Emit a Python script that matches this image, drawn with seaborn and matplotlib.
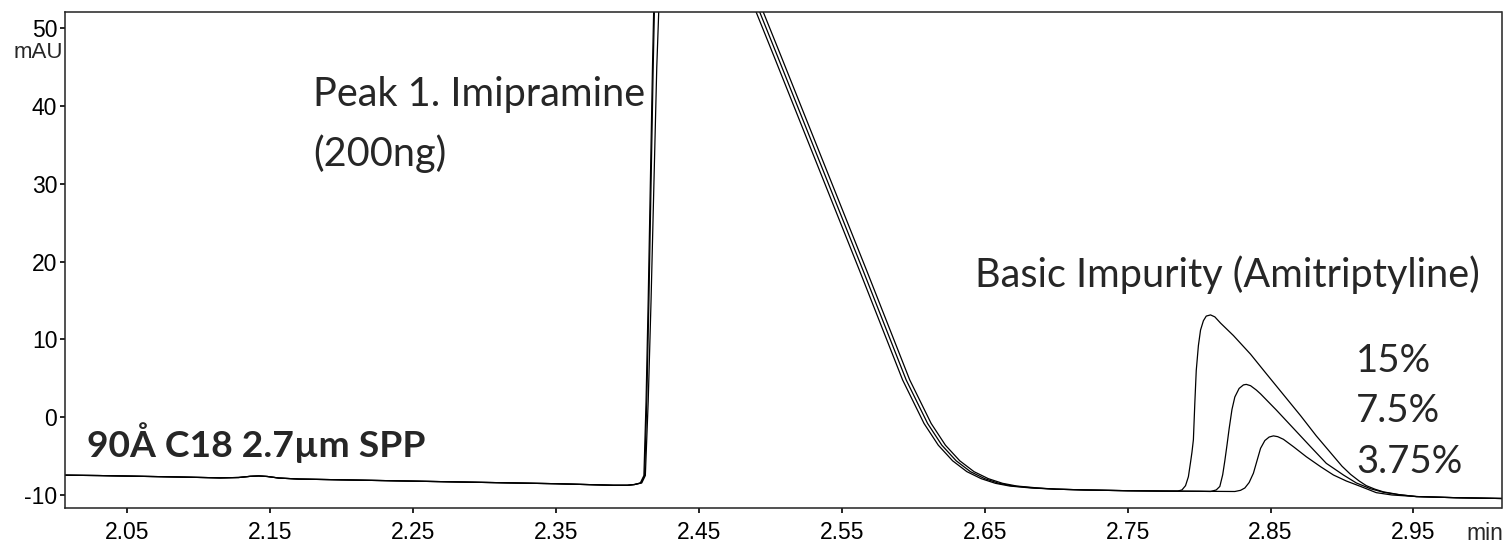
import numpy as np
import pandas as pd
import matplotlib
matplotlib.use("Agg")
import matplotlib.pyplot as plt
import matplotlib.transforms as mtransforms
import seaborn as sns

# ---------------- data ----------------
# shared baseline before the main peak (min, mAU)
base_t = [2.006, 2.03, 2.06, 2.09, 2.115, 2.128, 2.136, 2.142, 2.148, 2.156, 2.17,
          2.20, 2.23, 2.26, 2.29, 2.32, 2.35, 2.37, 2.39, 2.400, 2.405]
base_y = [-7.45, -7.5, -7.6, -7.7, -7.8, -7.75, -7.6, -7.55, -7.62, -7.82, -7.95,
          -8.05, -8.15, -8.25, -8.35, -8.45, -8.55, -8.65, -8.75, -8.75, -8.65]

# trace: 15 % impurity
t_15 = [2.409, 2.4115, 2.413, 2.4145, 2.416, 2.4175, 2.419, 2.488,
        2.490, 2.5025, 2.5175, 2.5325, 2.5475, 2.5625, 2.5775, 2.5925, 2.6075,
        2.6175, 2.6275, 2.6375, 2.6475, 2.6575, 2.6675, 2.6825, 2.70,
        2.72, 2.75, 2.775, 2.785, 2.788, 2.7905, 2.7925, 2.794, 2.795, 2.796,
        2.797, 2.798, 2.7995, 2.801, 2.803, 2.805, 2.808, 2.811, 2.815, 2.824,
        2.836, 2.847, 2.859, 2.871, 2.882, 2.894, 2.900, 2.906, 2.912, 2.917,
        2.923, 2.929, 2.94, 2.952, 2.98, 3.012]
y_15 = [-8.45, -7.5, 2, 15, 30, 45, 58, 58,
        52.1, 46.4, 39.5, 32.6, 25.7, 18.8, 11.8, 4.8, -0.8,
        -3.6, -5.6, -7.0, -7.9, -8.5, -8.85, -9.1, -9.25,
        -9.35, -9.45, -9.5, -9.5, -9.35, -8.8, -7.65, -5.8, -4.5, -2.9,
        1.8, 6.0, 9.2, 11.2, 12.4, 13.0, 13.15, 12.9, 12.1, 10.5,
        8.1, 5.6, 2.9, 0.2, -2.4, -5.0, -6.3, -7.35, -8.2, -8.8,
        -9.25, -9.6, -9.95, -10.2, -10.35, -10.45]

# trace: 7.5 % impurity
t_75 = [2.410, 2.4125, 2.4145, 2.4165, 2.4185, 2.4205, 2.423, 2.489,
        2.4925, 2.505, 2.52, 2.535, 2.55, 2.565, 2.58, 2.595, 2.61,
        2.62, 2.63, 2.64, 2.65, 2.66, 2.67, 2.685, 2.70,
        2.72, 2.75, 2.78, 2.80, 2.808, 2.812, 2.8145, 2.8165, 2.818, 2.8195,
        2.821, 2.823, 2.825, 2.828, 2.831, 2.833, 2.836, 2.84, 2.843, 2.854,
        2.866, 2.878, 2.889, 2.901, 2.910, 2.92, 2.929, 2.94, 2.952, 2.98, 3.012]
y_75 = [-8.45, -7.5, 2, 15, 30, 45, 58, 58,
        52.1, 46.4, 39.5, 32.6, 25.7, 18.8, 11.8, 4.8, -0.8,
        -3.6, -5.6, -7.0, -7.9, -8.5, -8.85, -9.1, -9.25,
        -9.35, -9.45, -9.5, -9.52, -9.55, -9.35, -8.9, -7.4, -5.6, -3.6,
        -1.5, 1.0, 2.6, 3.7, 4.15, 4.22, 4.05, 3.5, 3.0, 0.93,
        -1.43, -3.79, -5.93, -7.43, -8.45, -9.2, -9.65, -9.97, -10.2, -10.35, -10.45]

# trace: 3.75 % impurity
t_375 = [2.4095, 2.412, 2.4135, 2.415, 2.4165, 2.418, 2.4195, 2.490,
         2.495, 2.5075, 2.5225, 2.5375, 2.5525, 2.5675, 2.5825, 2.5975, 2.6125,
         2.6225, 2.6325, 2.6425, 2.6525, 2.6625, 2.6725, 2.6875, 2.70,
         2.72, 2.75, 2.78, 2.80, 2.825, 2.829, 2.832, 2.835, 2.838, 2.8405,
         2.843, 2.846, 2.849, 2.852, 2.855, 2.859, 2.866, 2.875, 2.885, 2.894,
         2.903, 2.913, 2.924, 2.935, 2.952, 2.98, 3.012]
y_375 = [-8.45, -7.5, 2, 15, 30, 45, 58, 58,
         52.1, 46.4, 39.5, 32.6, 25.7, 18.8, 11.8, 4.8, -0.8,
         -3.6, -5.6, -7.0, -7.9, -8.5, -8.85, -9.1, -9.25,
         -9.35, -9.45, -9.5, -9.52, -9.55, -9.4, -9.1, -8.4, -7.2, -5.6,
         -4.0, -3.0, -2.55, -2.4, -2.5, -2.84, -3.79, -5.08, -6.36, -7.43,
         -8.2, -8.9, -9.7, -10.0, -10.2, -10.35, -10.45]

trace_names = ["15%", "7.5%", "3.75%"]
x_ticks = [2.05, 2.15, 2.25, 2.35, 2.45, 2.55, 2.65, 2.75, 2.85, 2.95]
y_ticks = [-10, 0, 10, 20, 30, 40, 50]

# ---------------- build long table ----------------
frames = []
for name, tt, yy in zip(trace_names, [t_15, t_75, t_375], [y_15, y_75, y_375]):
    frames.append(pd.DataFrame({"t": base_t + tt, "mAU": base_y + yy,
                                "trace": name,
                                "order": np.arange(len(base_t) + len(tt))}))
df = pd.concat(frames, ignore_index=True)

# ---------------- plot ----------------
sns.set_style("ticks")
plt.rcParams["font.family"] = ["Liberation Sans", "DejaVu Sans"]
plt.rcParams["axes.unicode_minus"] = False

fig = plt.figure(figsize=(15.06, 5.43), dpi=100)
ax = fig.add_axes([64.7 / 1506, 1 - 508.3 / 543, (1501.5 - 64.7) / 1506, (508.3 - 11.7) / 543])

sns.lineplot(data=df, x="t", y="mAU", units="trace", estimator=None, sort=False,
             color="black", linewidth=0.9, ax=ax, legend=False)

ax.set_xlim(2.0062, 3.0116)
ax.set_ylim(-11.71, 52.13)
ax.set_xticks(x_ticks)
ax.set_xticklabels([f"{v:.2f}" for v in x_ticks])
ax.set_yticks(y_ticks)
ax.set_yticklabels([str(v) for v in y_ticks])
ax.set_xlabel("")
ax.set_ylabel("")
for s in ax.spines.values():
    s.set_visible(True)
    s.set_color("#222222")
    s.set_linewidth(1.1)
ax.tick_params(axis="x", direction="out", length=3.5, width=1.2, pad=6,
               labelsize=16.5, colors="black")
ax.tick_params(axis="y", direction="out", length=3.5, width=1.2, pad=1.8,
               labelsize=16.5, colors="black")
for lab in ax.get_xticklabels() + ax.get_yticklabels():
    lab.set_fontfamily(["Liberation Sans", "DejaVu Sans"])

# axis unit labels
trans_y = mtransforms.blended_transform_factory(ax.transAxes, ax.transData)
ax.text(-0.0012, 46.2, "mAU", transform=trans_y, ha="right", va="baseline",
        fontsize=16, family=["Liberation Sans", "DejaVu Sans"], clip_on=False)
trans_x = mtransforms.blended_transform_factory(ax.transData, ax.transAxes)
ax.text(2.987, -0.064, "min", transform=trans_x, ha="left", va="baseline",
        fontsize=16.5, family=["Liberation Sans", "DejaVu Sans"], clip_on=False)

# annotations
lato = ["Lato", "DejaVu Sans"]
ax.text(2.180, 40.0, "Peak 1. Imipramine", family=lato, fontsize=28.5, va="baseline")
ax.text(2.180, 32.3, "(200ng)", family=lato, fontsize=28.5, va="baseline")
ax.text(2.643, 16.7, "Basic Impurity (Amitriptyline)", family=lato, fontsize=28.5,
        va="baseline")
ax.text(2.910, 5.85, "15%", family=lato, fontsize=27.5, va="baseline")
ax.text(2.910, -0.58, "7.5%", family=lato, fontsize=27.5, va="baseline")
ax.text(2.910, -7.2, "3.75%", family=lato, fontsize=27.5, va="baseline")
ax.text(2.0218, -5.1, "90Å C18 2.7µm SPP", family=lato, fontsize=26.8,
        fontweight="bold", va="baseline")

fig.savefig("out.png", dpi=100)
